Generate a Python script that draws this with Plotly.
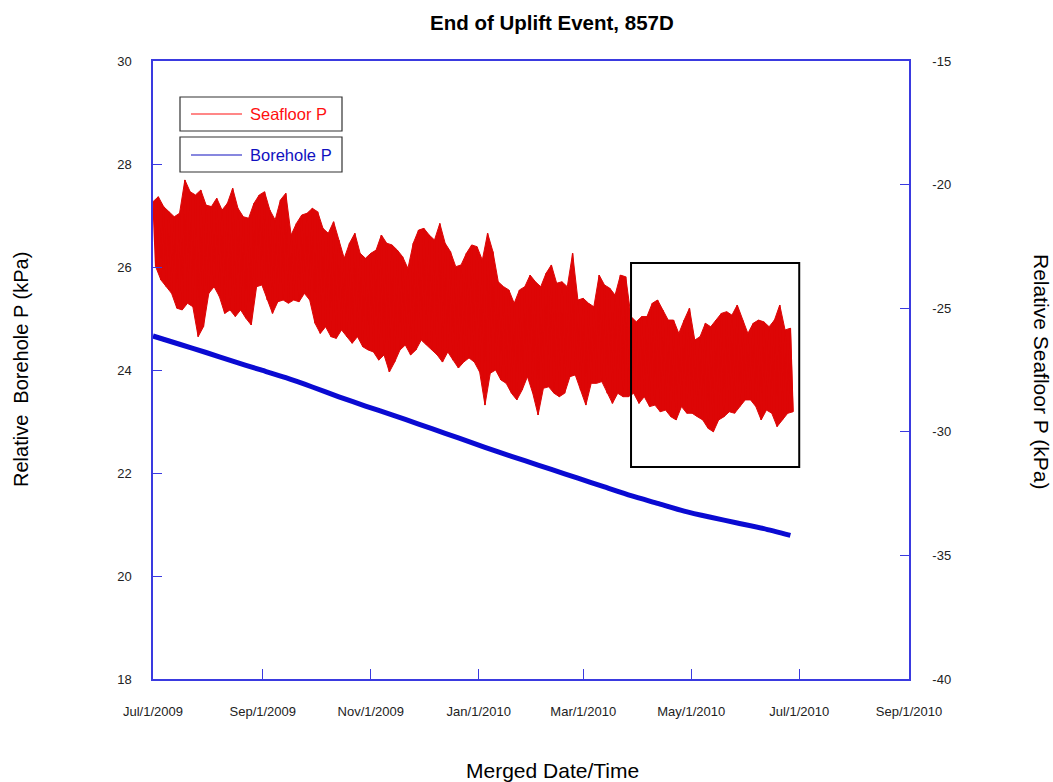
import datetime as dt
import plotly.graph_objects as go

# ---- data -----------------------------------------------------------------
start = dt.datetime(2009, 7, 1)

# Seafloor pressure (kPa, right axis): tidal highs and lows, one pair every 3 days
sf_step_days = 3.0
sf_high = [
    -20.69, -20.49, -20.89, -21.10, -21.30, -21.16, -19.81, -20.29, -20.42, -20.22,
    -20.83, -20.89, -20.55, -21.03, -20.76, -20.15, -20.96, -21.30, -21.36, -20.76,
    -20.42, -20.29, -21.03, -21.43, -20.62, -20.35, -22.04, -21.57, -21.23, -21.16,
    -20.96, -21.10, -21.77, -21.97, -21.50, -22.24, -22.98, -22.37, -21.97, -22.78,
    -22.98, -22.78, -22.65, -22.04, -22.37, -22.44, -22.65, -22.92, -23.39, -22.37,
    -21.84, -21.77, -22.04, -22.24, -21.57, -22.37, -22.71, -23.32, -23.25, -22.78,
    -22.44, -22.51, -23.05, -21.97, -22.71, -23.93, -24.13, -24.26, -24.80, -24.26,
    -24.13, -23.66, -23.93, -24.13, -23.59, -23.25, -23.99, -23.93, -24.13, -22.78,
    -24.67, -24.60, -24.80, -24.94, -23.66, -24.06, -24.19, -24.47, -23.66, -23.73,
    -25.34, -25.55, -25.34, -25.34, -24.80, -24.67, -25.07, -25.48, -25.48, -26.02,
    -25.48, -25.00, -26.29, -26.15, -25.61, -25.75, -25.48, -25.21, -25.14, -25.28,
    -24.87, -25.48, -26.02, -25.61, -25.48, -25.55, -25.75, -25.48, -24.87, -25.88,
    -25.81,
]
sf_low = [
    -23.32, -23.86, -24.13, -24.40, -25.00, -25.07, -24.80, -24.94, -26.15, -25.75,
    -24.40, -24.13, -24.53, -25.21, -25.07, -25.34, -25.07, -25.41, -25.68, -24.13,
    -24.06, -24.67, -25.21, -24.74, -24.67, -24.80, -24.67, -24.74, -24.40, -24.67,
    -25.61, -26.02, -25.75, -26.15, -26.22, -25.88, -26.15, -26.42, -26.15, -26.56,
    -26.69, -26.77, -27.10, -26.89, -27.58, -27.18, -26.69, -26.49, -26.89, -26.69,
    -26.29, -26.49, -26.69, -26.89, -27.18, -26.77, -27.10, -27.42, -27.18, -27.01,
    -27.18, -27.58, -28.92, -27.63, -27.50, -27.90, -28.04, -28.44, -28.71, -28.31,
    -27.77, -28.44, -29.32, -28.24, -28.18, -28.44, -28.58, -28.44, -27.77, -27.70,
    -28.31, -28.92, -28.04, -28.04, -27.97, -28.44, -28.85, -28.44, -28.58, -28.58,
    -28.44, -28.85, -28.58, -28.98, -28.92, -29.19, -29.12, -29.39, -29.52, -28.98,
    -29.25, -29.25, -29.39, -29.52, -29.86, -30.00, -29.52, -29.39, -29.19, -29.25,
    -28.98, -28.71, -28.71, -28.98, -29.52, -29.12, -29.25, -29.79, -29.52, -29.25,
    -29.19,
]

# Borehole pressure (kPa, left axis), one reading every 15 days
bh_step_days = 15
bh_values = [
    24.66, 24.50, 24.34, 24.17, 24.01, 23.85, 23.67, 23.48, 23.30, 23.13,
    22.95, 22.77, 22.59, 22.41, 22.24, 22.07, 21.90, 21.73, 21.56, 21.41,
    21.26, 21.14, 21.03, 20.92, 20.79,
]

x_ticks = ["2009-07-01", "2009-09-01", "2009-11-01", "2010-01-01",
           "2010-03-01", "2010-05-01", "2010-07-01", "2010-09-01"]
x_tick_text = ["Jul/1/2009", "Sep/1/2009", "Nov/1/2009", "Jan/1/2010",
               "Mar/1/2010", "May/1/2010", "Jul/1/2010", "Sep/1/2010"]
y_ticks = [18, 20, 22, 24, 26, 28, 30]
y2_ticks = [-40, -35, -30, -25, -20, -15]

# ---- series construction --------------------------------------------------
hi_t = [start + dt.timedelta(days=i * sf_step_days) for i in range(len(sf_high))]
lo_t = [t + dt.timedelta(days=sf_step_days / 2) for t in hi_t]

# tidal band: upper extremes forward, lower extremes back
band_x = hi_t + lo_t[::-1]
band_y = sf_high + sf_low[::-1]

# individual tidal swings drawn over the band
swing_x, swing_y = [], []
for th, tl, hi, lo in zip(hi_t, lo_t, sf_high, sf_low):
    swing_x += [th, tl]
    swing_y += [hi, lo]

bh_x = [start + dt.timedelta(days=i * bh_step_days) for i in range(len(bh_values))]

# ---- geometry helpers (pixel -> paper) -----------------------------------
W, H = 1053, 782
L, R, T, B = 153, 909, 61, 679


def px(x):
    return (x - L) / (R - L)


def py(y):
    return (B - y) / (B - T)


AXIS = "#3a3ae0"
RED = "#dd0606"
BLUE = "#0a0ad2"
FONT = "Liberation Sans, Arial, sans-serif"
TICKFONT = dict(size=13, color="#222222")

fig = go.Figure()
fig.add_trace(go.Scatter(x=band_x, y=band_y, mode="lines", yaxis="y2",
                         fill="toself", fillcolor=RED,
                         line=dict(color=RED, width=1), showlegend=False,
                         name="Seafloor P", hoverinfo="skip"))
fig.add_trace(go.Scatter(x=swing_x, y=swing_y, mode="lines", yaxis="y2",
                         line=dict(color=RED, width=1.4), showlegend=False,
                         name="Seafloor P"))
fig.add_trace(go.Scatter(x=bh_x, y=bh_values, mode="lines",
                         line=dict(color=BLUE, width=5, shape="spline", smoothing=0.6),
                         showlegend=False, name="Borehole P"))

fig.update_layout(
    width=W, height=H,
    margin=dict(l=L, r=W - R, t=T, b=H - B, pad=0),
    paper_bgcolor="white", plot_bgcolor="white",
    font=dict(family=FONT, color="#222222", size=13),
    showlegend=False,
    xaxis=dict(
        type="date", range=["2009-07-01", "2010-09-01"],
        tickvals=x_ticks, ticktext=x_tick_text,
        ticks="inside", ticklen=10, tickcolor=AXIS, tickwidth=1.2,
        showline=True, linecolor=AXIS, linewidth=1.5, mirror=True,
        showgrid=False, zeroline=False,
        ticklabelstandoff=20, tickfont=TICKFONT,
    ),
    yaxis=dict(
        range=[18, 30], tickvals=y_ticks, ticktext=[str(v) for v in y_ticks],
        ticks="inside", ticklen=9, tickcolor=AXIS, tickwidth=1.2,
        showline=True, linecolor=AXIS, linewidth=1.5, mirror=True,
        showgrid=False, zeroline=False,
        ticklabelstandoff=17, tickfont=TICKFONT,
    ),
    yaxis2=dict(
        range=[-40, -15], tickvals=y2_ticks, ticktext=[str(v) for v in y2_ticks],
        overlaying="y", side="right",
        ticks="inside", ticklen=9, tickcolor=AXIS, tickwidth=1.2,
        showline=True, linecolor=AXIS, linewidth=1.5,
        showgrid=False, zeroline=False,
        ticklabelstandoff=19, tickfont=TICKFONT,
    ),
)

shapes = [
    # highlight box around the last part of the record
    dict(type="rect", xref="x", yref="paper",
         x0="2010-03-28", x1="2010-07-01", y0=py(467), y1=py(263),
         line=dict(color="black", width=2)),
    # legend boxes
    dict(type="rect", xref="paper", yref="paper",
         x0=px(180), x1=px(342), y0=py(131), y1=py(97),
         line=dict(color="#333333", width=1.2), fillcolor="white"),
    dict(type="rect", xref="paper", yref="paper",
         x0=px(180), x1=px(342), y0=py(172), y1=py(137),
         line=dict(color="#333333", width=1.2), fillcolor="white"),
    dict(type="line", xref="paper", yref="paper",
         x0=px(191), x1=px(242), y0=py(114), y1=py(114),
         line=dict(color="#ff1010", width=1.2)),
    dict(type="line", xref="paper", yref="paper",
         x0=px(191), x1=px(242), y0=py(155), y1=py(155),
         line=dict(color="#1010c0", width=1.2)),
]

annotations = [
    dict(text="<b>End of Uplift Event, 857D</b>", xref="paper", yref="paper",
         x=px(552), y=py(22), showarrow=False, xanchor="center", yanchor="middle",
         font=dict(size=20.5, color="black")),
    dict(text="Merged Date/Time", xref="paper", yref="paper",
         x=px(552), y=py(770), showarrow=False, xanchor="center", yanchor="middle",
         font=dict(size=21, color="black")),
    dict(text="Relative  Borehole P (kPa)", xref="paper", yref="paper",
         x=px(21), y=py(370), showarrow=False, textangle=-90,
         xanchor="center", yanchor="middle", font=dict(size=20, color="black")),
    dict(text="Relative Seafloor P (kPa)", xref="paper", yref="paper",
         x=px(1041), y=py(371), showarrow=False, textangle=90,
         xanchor="center", yanchor="middle", font=dict(size=21, color="black")),
    dict(text="Seafloor P", xref="paper", yref="paper",
         x=px(248), y=py(114), showarrow=False, xanchor="left", yanchor="middle",
         font=dict(size=16.5, color="#ff1010")),
    dict(text="Borehole P", xref="paper", yref="paper",
         x=px(248), y=py(155), showarrow=False, xanchor="left", yanchor="middle",
         font=dict(size=16.5, color="#1010c0")),
]

fig.update_layout(shapes=shapes, annotations=annotations)
fig.write_html("out.html")
